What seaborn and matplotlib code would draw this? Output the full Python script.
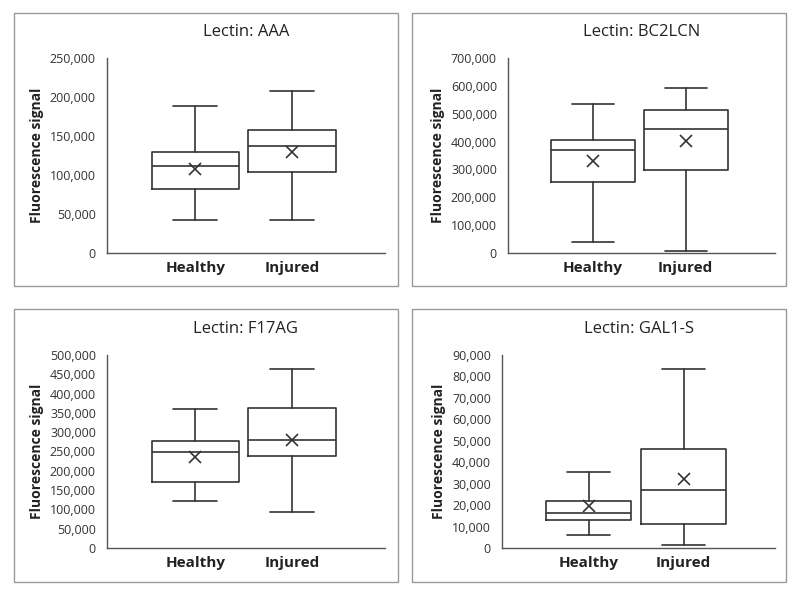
import matplotlib
matplotlib.use("Agg")
import matplotlib.pyplot as plt
import matplotlib.ticker as mticker
from matplotlib.patches import Rectangle
import seaborn as sns

sns.set_theme(style="white")
plt.rcParams['font.family'] = ['Open Sans', 'DejaVu Sans']

groups = ['Healthy', 'Injured']
lectins = ['AAA', 'BC2LCN', 'F17AG', 'GAL1-S']
ymaxes = [250000, 700000, 500000, 90000]
ysteps = [50000, 100000, 50000, 10000]

# min, q1, median, q3, max, mean  (Healthy, Injured)
mins = [[42000, 42000], [40000, 8000], [122000, 93000], [6000, 1500]]
q1s = [[82000, 104000], [255000, 298000], [170000, 238000], [13000, 11000]]
meds = [[112000, 137000], [368000, 445000], [248000, 280000], [16500, 27000]]
q3s = [[129000, 158000], [405000, 515000], [278000, 362000], [22000, 46000]]
maxs = [[188000, 208000], [535000, 592000], [360000, 463000], [35500, 83500]]
means = [[108000, 130000], [330000, 402000], [235000, 280000], [19500, 32000]]

W, H = 800, 592
fig = plt.figure(figsize=(8, 5.92), dpi=100)

frames = [(14, 13, 398, 286), (412, 13, 786, 286), (14, 309, 398, 582), (412, 309, 786, 582)]
axes_px = [(107, 58, 385, 253), (508, 58, 775, 253), (107, 355, 385, 548), (502, 355, 775, 548)]

for i, lec in enumerate(lectins):
    fx0, fy0, fx1, fy1 = frames[i]
    fig.patches.append(Rectangle((fx0 / W, 1 - fy1 / H), (fx1 - fx0) / W, (fy1 - fy0) / H,
                                 transform=fig.transFigure, fill=False, edgecolor='#999999', lw=1))
    x0, y0, x1, y1 = axes_px[i]
    ax = fig.add_axes([x0 / W, 1 - y1 / H, (x1 - x0) / W, (y1 - y0) / H])
    stats = []
    for g in range(2):
        stats.append(dict(med=meds[i][g], q1=q1s[i][g], q3=q3s[i][g], whislo=mins[i][g],
                          whishi=maxs[i][g], mean=means[i][g], fliers=[]))
    ax.bxp(stats, positions=[1, 2], widths=0.9, showmeans=True, showfliers=False,
           boxprops=dict(color='#333333', lw=1.2),
           medianprops=dict(color='#333333', lw=1.2),
           whiskerprops=dict(color='#333333', lw=1.2),
           capprops=dict(color='#333333', lw=1.2),
           meanprops=dict(marker='x', markeredgecolor='#333333', markersize=8, markeredgewidth=1.2))
    ax.set_xlim(0.09, 2.96)
    ax.set_ylim(0, ymaxes[i])
    ax.yaxis.set_major_locator(mticker.MultipleLocator(ysteps[i]))
    ax.yaxis.set_major_formatter(mticker.FuncFormatter(lambda v, p: f"{int(v):,}"))
    ax.set_xticks([1, 2])
    ax.set_xticklabels(groups, fontsize=11, fontweight='bold', color='#222222')
    ax.tick_params(axis='y', labelsize=9, colors='#333333', length=0, pad=8)
    ax.tick_params(axis='x', length=0, pad=6)
    sns.despine(ax=ax)
    for s in ['left', 'bottom']:
        ax.spines[s].set_color('#555555')
        ax.spines[s].set_linewidth(1)
    ax.set_ylabel('Fluorescence signal', fontsize=10, fontweight='bold', color='#222222')
    ax.set_title(f'Lectin: {lec}', fontsize=12, color='#222222', pad=16)

fig.savefig('out.png', dpi=100)
